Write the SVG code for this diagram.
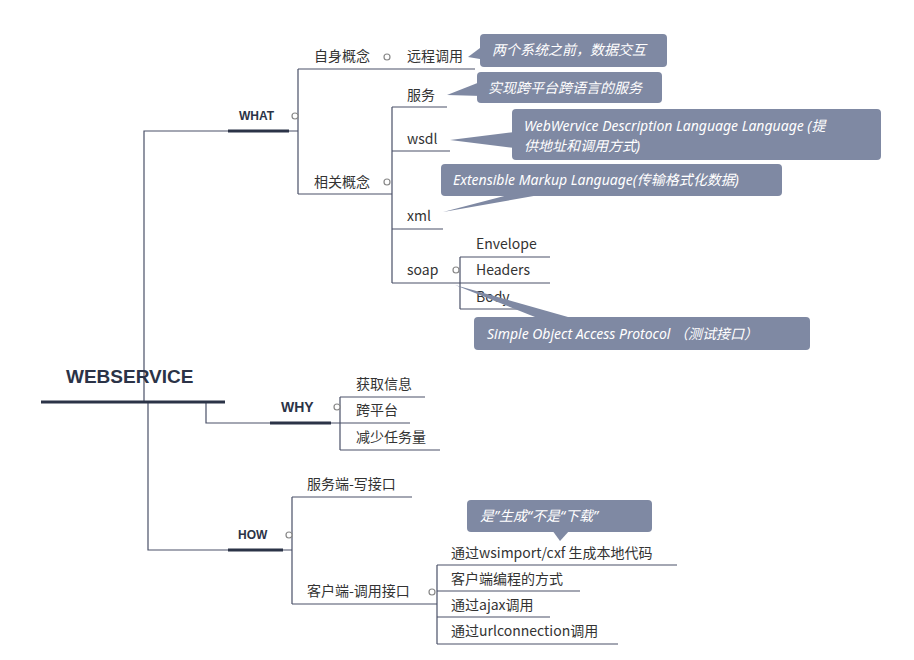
<svg xmlns="http://www.w3.org/2000/svg" width="914" height="660" viewBox="0 0 914 660">
<style>
.t{font-family:"Noto Sans CJK SC","Noto Sans",sans-serif;font-size:14px;fill:#333}
.b{font-family:"Liberation Sans","Noto Sans CJK SC",sans-serif;font-weight:bold;fill:#2b3347}
.c{font-family:"Noto Sans","Noto Sans CJK SC",sans-serif;font-size:14px;font-style:italic;fill:#fff}
.ln{stroke:#4a5068;stroke-width:1.2;fill:none}
.th{stroke:#2b3347;stroke-width:3;fill:none}
.cb{fill:#7f89a3}
.o{fill:#fff;stroke:#888;stroke-width:1.2}
</style>
<rect width="914" height="660" fill="#fff"/>
<g id="connectors">
<path class="ln" d="M144,402V131H228M289,131H298M298,69V194M298,69H475M298,194H392M392,107V283M392,107H447M392,151H450M392,229H443M392,283H460M460,257V309M460,257H550M460,283H550M460,309H520"/>
<path class="ln" d="M206,402V423H270M331,423H410M340,397V450M340,397H425M340,450H440"/>
<path class="ln" d="M148,402V550H228M283,550H292M292,497V604M292,497H412M292,604H437M437,565V644M437,565H677M437,591H580M437,617H550M437,644H618"/>
<path class="th" d="M41,402H225M228,131H289M270,423H331M228,550H283"/>
</g>
<g id="root"><text class="b" x="66" y="383" font-size="19">WEBSERVICE</text></g>
<g id="what"><text class="b" x="239" y="120" font-size="12">WHAT</text><circle class="o" cx="295" cy="116" r="3"/></g>
<g id="zishen"><text class="t" x="314" y="61">自身概念</text><circle class="o" cx="387" cy="57" r="3"/></g>
<g id="yuancheng"><text class="t" x="407" y="61">远程调用</text></g>
<g id="xiangguan"><text class="t" x="314" y="187">相关概念</text><circle class="o" cx="387" cy="182" r="3"/></g>
<g id="fuwu"><text class="t" x="407" y="100">服务</text></g>
<g id="wsdl"><text class="t" x="407" y="144">wsdl</text></g>
<g id="xml"><text class="t" x="407" y="221">xml</text></g>
<g id="soap"><text class="t" x="407" y="275">soap</text><circle class="o" cx="456" cy="270" r="3"/></g>
<g id="envelope"><text class="t" x="476" y="249">Envelope</text></g>
<g id="headers"><text class="t" x="476" y="275">Headers</text></g>
<g id="body"><text class="t" x="476" y="302">Body</text></g>
<g id="why"><text class="b" x="281" y="412" font-size="14">WHY</text><circle class="o" cx="337" cy="407" r="3"/></g>
<g id="huoqu"><text class="t" x="356" y="389">获取信息</text></g>
<g id="kuapingtai"><text class="t" x="356" y="415">跨平台</text></g>
<g id="jianshao"><text class="t" x="356" y="442">减少任务量</text></g>
<g id="how"><text class="b" x="238" y="539" font-size="12">HOW</text><circle class="o" cx="289" cy="535" r="3"/></g>
<g id="fuwuduan"><text class="t" x="307" y="489">服务端-写接口</text></g>
<g id="kehuduan"><text class="t" x="307" y="596">客户端-调用接口</text><circle class="o" cx="432" cy="592" r="3"/></g>
<g id="wsimport"><text class="t" x="451" y="558">通过wsimport/cxf 生成本地代码</text></g>
<g id="biancheng"><text class="t" x="451" y="584">客户端编程的方式</text></g>
<g id="ajax"><text class="t" x="451" y="610">通过ajax调用</text></g>
<g id="urlconn"><text class="t" x="451" y="636">通过urlconnection调用</text></g>
<g id="callouts">
<g><path class="cb" d="M484,45L468,57L486,60Z"/><rect class="cb" x="480" y="34" width="187" height="33" rx="4"/><text class="c" x="492" y="55">两个系统之前，数据交互</text></g>
<g><path class="cb" d="M480,82L447,95L482,96Z"/><rect class="cb" x="477" y="72" width="185" height="31" rx="4"/><text class="c" x="488" y="93">实现跨平台跨语言的服务</text></g>
<g><path class="cb" d="M515,132L450,140L515,148Z"/><rect class="cb" x="512" y="109" width="369" height="51" rx="4"/><text class="c" x="524" y="131">WebWervice Description Language Language (提</text><text class="c" x="524" y="151">供地址和调用方式)</text></g>
<g><path class="cb" d="M512,194L443,212L545,194Z"/><rect class="cb" x="441" y="164" width="341" height="32" rx="4"/><text class="c" x="453" y="185">Extensible Markup Language(传输格式化数据)</text></g>
<g><path class="cb" d="M540,319L455,285L575,319Z"/><rect class="cb" x="474" y="317" width="336" height="33" rx="4"/><text class="c" x="487" y="339">Simple Object  Access Protocol  （测试接口）</text></g>
<g><path class="cb" d="M552,530L560,541L570,530Z"/><rect class="cb" x="467" y="500" width="185" height="32" rx="4"/><text class="c" x="480" y="521">是”生成“不是“下载”</text></g>
</g>
</svg>
